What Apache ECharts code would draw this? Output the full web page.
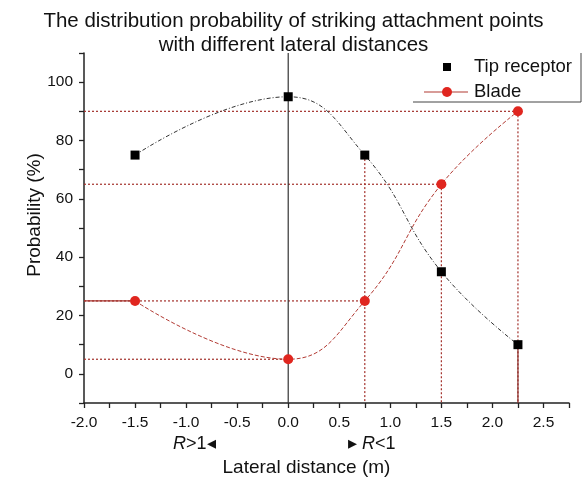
<!DOCTYPE html>
<html>
<head>
<meta charset="utf-8">
<script src="https://cdn.jsdelivr.net/npm/echarts@6/dist/echarts.min.js"></script>
<style>
html, body { margin: 0; background: #fff; }
#chart { width: 587px; height: 487px; }
</style>
</head>
<body>
<div id="chart"></div>
<script>
// values
const distances = [-1.5, 0, 0.75, 1.5, 2.25];
const tipReceptor = [75, 95, 75, 35, 10];
const blade = [25, 5, 25, 65, 90];
const xRange = [-2, 2.75];
const yRange = [-10, 110];

const font = 'Liberation Sans';
const refColor = '#a3302b';
const bladeColor = '#e0261f';

let chart = echarts.init(document.getElementById('chart'));

let seg = (a, b, color, type) => ({
    type: 'line',
    data: [a, b],
    symbol: 'none',
    silent: true,
    animation: false,
    lineStyle: { color: color, width: 1.2, type: type },
    z: 1
});

// helper lines from the blade points to the axes
let refs = [];
distances.forEach((x, i) => {
    if (i === 0) {
        refs.push(seg([xRange[0], blade[i]], [x, blade[i]], refColor, 'solid'));
    } else {
        refs.push(seg([xRange[0], blade[i]], [x, blade[i]], refColor, [2, 2]));
    }
    if (i >= 2) {
        let top = Math.max(tipReceptor[i], blade[i]);
        refs.push(seg([x, top], [x, yRange[0]], refColor, [2, 2]));
    }
});
let last = distances.length - 1;
refs.push(seg([distances[last], tipReceptor[last]], [distances[last], yRange[0]], '#8a2a26', 'solid'));
refs.push(seg([0, yRange[0]], [0, yRange[1]], '#333', 'solid'));

let option = {
    backgroundColor: '#fff',
    title: {
        text: 'The distribution probability of striking attachment points\nwith different lateral distances',
        left: 'center',
        top: 4,
        textStyle: { fontFamily: font, fontSize: 20.5, fontWeight: 'normal', color: '#111', lineHeight: 24 }
    },
    grid: { left: 84, right: 18, top: 53, bottom: 84 },
    xAxis: {
        type: 'value',
        min: xRange[0],
        max: xRange[1],
        interval: 0.25,
        name: 'Lateral distance (m)',
        nameLocation: 'middle',
        nameGap: 55,
        nameMoveOverlap: false,
        nameTextStyle: { fontFamily: font, fontSize: 19, color: '#111', padding: [0, 40, 0, 0] },
        axisLine: { onZero: false, lineStyle: { color: '#222', width: 1.5 } },
        axisTick: { length: 5, lineStyle: { color: '#222', width: 1.3 } },
        axisLabel: {
            margin: 12,
            fontFamily: font,
            fontSize: 15.5,
            color: '#111',
            formatter: v => Number.isInteger(Math.round(v * 100) / 50) ? v.toFixed(1) : '',
            showMaxLabel: true
        },
        splitLine: { show: false }
    },
    yAxis: {
        type: 'value',
        min: yRange[0],
        max: yRange[1],
        interval: 10,
        name: 'Probability (%)',
        nameLocation: 'middle',
        nameGap: 40,
        nameMoveOverlap: false,
        nameTextStyle: { fontFamily: font, fontSize: 19, color: '#111', padding: [0, 0, 0, 26] },
        axisLine: { onZero: false, lineStyle: { color: '#222', width: 1.5 } },
        axisTick: { length: 5, lineStyle: { color: '#222', width: 1.3 } },
        axisLabel: {
            margin: 11,
            fontFamily: font,
            fontSize: 15.5,
            color: '#111',
            formatter: v => (v >= 0 && v <= 100 && v % 20 === 0) ? String(v) : ''
        },
        splitLine: { show: false }
    },
    series: refs.concat([
        {
            name: 'Tip receptor',
            type: 'line',
            data: distances.map((x, i) => [x, tipReceptor[i]]),
            smooth: 0.45,
            symbol: 'rect',
            symbolSize: 9,
            itemStyle: { color: '#000' },
            lineStyle: { color: '#333', width: 1, type: [4, 2, 1, 2] },
            z: 5
        },
        {
            name: 'Blade',
            type: 'line',
            data: distances.map((x, i) => [x, blade[i]]),
            smooth: 0.45,
            symbol: 'circle',
            symbolSize: 10,
            itemStyle: { color: bladeColor },
            lineStyle: { color: '#b23a33', width: 1, type: [4, 2] },
            z: 5
        }
    ]),
    graphic: [
        // legend frame (only right and bottom edges show in the figure)
        { type: 'line', shape: { x1: 581, y1: 53, x2: 581, y2: 102 }, style: { stroke: '#444', lineWidth: 1 } },
        { type: 'line', shape: { x1: 413, y1: 102, x2: 581, y2: 102 }, style: { stroke: '#444', lineWidth: 1 } },
        { type: 'rect', shape: { x: 443, y: 63, width: 8, height: 8 }, style: { fill: '#000' } },
        { type: 'text', left: 474, top: 57, style: { text: 'Tip receptor', font: '18.5px "Liberation Sans"', fill: '#111' } },
        { type: 'line', shape: { x1: 424, y1: 92, x2: 468, y2: 92 }, style: { stroke: '#b23a33', lineWidth: 1.2 } },
        { type: 'circle', shape: { cx: 447, cy: 92, r: 5 }, style: { fill: bladeColor } },
        { type: 'text', left: 474, top: 82, style: { text: 'Blade', font: '18.5px "Liberation Sans"', fill: '#111' } },
        // region notes under the axis
        {
            type: 'text', left: 173, top: 435,
            style: {
                text: '{i|R}>1◂',
                rich: { i: { fontStyle: 'italic', fontFamily: font, fontSize: 18 } },
                font: '18px "Liberation Sans"', fill: '#111'
            }
        },
        {
            type: 'text', left: 348, top: 435,
            style: {
                text: '▸ {i|R}<1',
                rich: { i: { fontStyle: 'italic', fontFamily: font, fontSize: 18 } },
                font: '18px "Liberation Sans"', fill: '#111'
            }
        }
    ]
};

chart.setOption(option);
</script>
</body>
</html>
